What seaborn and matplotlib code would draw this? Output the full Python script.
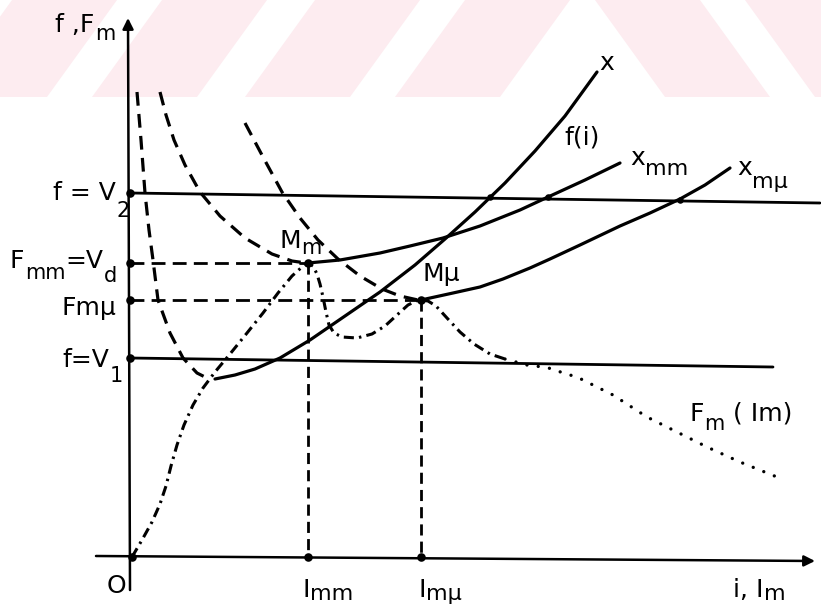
import matplotlib
matplotlib.use("Agg")
import matplotlib.pyplot as plt
import matplotlib.transforms as mtransforms
from matplotlib.patches import Polygon
import seaborn as sns

# ---------------- characteristic levels ----------------
V2_I = [-0.02, 6.88]          # f = V2 line (left / right end)
V2_F = [3.64, 3.54]
V1_I = [-0.02, 6.41]          # f = V1 line
V1_F = [1.99, 1.90]
F_MM = 2.94                   # F_mm = V_d
F_MMU = 2.57                  # F_m mu
I_MM = 1.76
I_MMU = 2.89

# ---------------- axes (with arrow ends) ----------------
XAXIS_I = [-0.36, 6.83]
XAXIS_F = [0.01, -0.04]
YAXIS_I = [-0.02, -0.04]
YAXIS_F = [-0.33, 5.39]

# ---------------- curves ----------------
# steep dashed hyperbola
dash_a_i = [0.05, 0.09, 0.13, 0.17, 0.21, 0.26, 0.38, 0.51, 0.65, 0.75]
dash_a_f = [4.65, 4.17, 3.64, 3.27, 2.97, 2.57, 2.24, 1.99, 1.84, 1.79]
# dashed curve ending at M_m
dash_b_i = [0.28, 0.34, 0.42, 0.53, 0.68, 0.88, 1.13, 1.40, 1.60, 1.74]
dash_b_f = [4.65, 4.42, 4.17, 3.92, 3.65, 3.41, 3.19, 3.03, 2.96, 2.94]
# dashed curve ending at M_mu
dash_c_i = [1.13, 1.31, 1.50, 1.68, 1.86, 2.06, 2.28, 2.50, 2.68, 2.86]
dash_c_f = [4.34, 4.00, 3.65, 3.39, 3.17, 2.98, 2.81, 2.68, 2.61, 2.57]

# F_m(I_m) characteristic (dash-dot part)
fm_i = [0.00, 0.10, 0.20, 0.28, 0.34, 0.39, 0.45, 0.52, 0.61, 0.71, 0.83,
        0.98, 1.15, 1.31, 1.46, 1.60, 1.70, 1.76, 1.81, 1.85, 1.88, 1.91,
        1.94, 1.97, 2.02, 2.10, 2.25, 2.40, 2.53, 2.65, 2.76, 2.84, 2.89,
        2.96, 3.04, 3.15, 3.28, 3.42, 3.58, 3.73]
fm_f = [0.00, 0.17, 0.35, 0.53, 0.71, 0.91, 1.12, 1.32, 1.52, 1.69, 1.85,
        2.03, 2.24, 2.44, 2.64, 2.81, 2.90, 2.94, 2.91, 2.83, 2.73, 2.60,
        2.45, 2.32, 2.24, 2.20, 2.19, 2.23, 2.31, 2.42, 2.52, 2.56, 2.57,
        2.56, 2.51, 2.39, 2.25, 2.13, 2.03, 1.98]
# F_m(I_m) tail (dotted part)
fm_tail_i = [3.73, 3.95, 4.11, 4.21, 4.31, 4.45, 4.63, 4.81, 5.15, 5.41,
             5.75, 6.08, 6.45]
fm_tail_f = [1.98, 1.92, 1.90, 1.88, 1.84, 1.80, 1.71, 1.62, 1.40, 1.27,
             1.10, 0.95, 0.80]

# f(i) characteristic
fi_i = [0.83, 1.03, 1.23, 1.48, 1.78, 2.13, 2.48, 2.83, 3.13, 3.43, 3.73,
        4.03, 4.33, 4.65]
fi_f = [1.78, 1.82, 1.88, 1.99, 2.17, 2.41, 2.65, 2.92, 3.18, 3.45, 3.74,
        4.06, 4.41, 4.85]
# x_mm branch
xmm_i = [1.76, 2.08, 2.48, 2.78, 3.11, 3.48, 3.88, 4.16, 4.53, 4.88]
xmm_f = [2.94, 2.97, 3.04, 3.11, 3.19, 3.31, 3.47, 3.60, 3.77, 3.94]
# x_mu branch
xmu_i = [2.89, 3.21, 3.48, 3.71, 3.98, 4.18, 4.48, 4.88, 5.18, 5.48, 5.73, 5.98]
xmu_f = [2.57, 2.64, 2.70, 2.78, 2.89, 2.98, 3.12, 3.31, 3.44, 3.58, 3.72, 3.89]

# crossings with f = V2
cross_i = [3.58, 4.16, 5.48]
cross_f = [3.60, 3.60, 3.57]

# ---------------- style ----------------
sns.set_theme(style="white")
plt.rcParams["font.family"] = ["DejaVu Sans"]

DASH = (0, (4.3, 2.6))
DASH_H = (0, (5.0, 2.6))
DASH_V = (0, (4.0, 2.2))
DASHDOT = (0, (3.3, 1.7, 0.8, 1.7))
DOTTED = (0, (0.01, 3.4))
INK = "black"
FS = 18
FS_SUB = 15

fig = plt.figure(figsize=(8.21, 6.14), dpi=100)
ax = fig.add_axes([0, 0, 1, 1])
ax.set_xlim(-1.32, 6.89)
ax.set_ylim(-0.57, 5.57)
ax.axis("off")

# faint pink stripes across the top of the sheet (pixel space)
px = mtransforms.Affine2D().scale(1 / 821, -1 / 614).translate(0, 1) + fig.transFigure
pink = "#fdecf0"
for xb in [-58, 92, 245, 395]:
    ax.add_patch(Polygon([(xb, 97), (xb + 105, 97), (xb + 175, 0), (xb + 70, 0)],
                         closed=True, transform=px, facecolor=pink,
                         edgecolor="none", zorder=0))
for xb in [665, 815]:
    ax.add_patch(Polygon([(xb, 97), (xb + 105, 97), (xb + 35, 0), (xb - 70, 0)],
                         closed=True, transform=px, facecolor=pink,
                         edgecolor="none", zorder=0))


def curve(i, f, ls="-", lw=2.3, cap="butt"):
    sns.lineplot(x=i, y=f, ax=ax, color=INK, linewidth=lw, linestyle=ls,
                 estimator=None, sort=False, dash_capstyle=cap, zorder=3)


def rich(x, y, pieces):
    """Write a label piece by piece; each piece is (text, drop in points, size)."""
    prev = None
    for s, drop, size in pieces:
        if prev is None:
            prev = ax.text(x, y, s, fontsize=size, ha="left", va="baseline",
                           color=INK)
        else:
            prev = ax.annotate(s, xy=(1, y), xycoords=(prev, "data"),
                               xytext=(0.3, -drop), textcoords="offset points",
                               fontsize=size, ha="left", va="baseline",
                               color=INK)


# axes with arrow heads
ax.annotate("", xy=(XAXIS_I[1], XAXIS_F[1]), xytext=(XAXIS_I[0], XAXIS_F[0]),
            arrowprops=dict(arrowstyle="-|>", color=INK, lw=1.8,
                            mutation_scale=16, shrinkA=0, shrinkB=0))
ax.annotate("", xy=(YAXIS_I[1], YAXIS_F[1]), xytext=(YAXIS_I[0], YAXIS_F[0]),
            arrowprops=dict(arrowstyle="-|>", color=INK, lw=1.8,
                            mutation_scale=16, shrinkA=0, shrinkB=0))

# reference levels
curve(V2_I, V2_F, lw=2.0)
curve(V1_I, V1_F, lw=2.0)
curve([YAXIS_I[0], I_MM], [F_MM, F_MM], ls=DASH_H, lw=2.0)
curve([YAXIS_I[0], I_MMU], [F_MMU, F_MMU], ls=DASH_H, lw=2.0)
curve([I_MM, I_MM], [F_MM, 0], ls=DASH_V, lw=2.0)
curve([I_MMU, I_MMU], [F_MMU, 0], ls=DASH_V, lw=2.0)

# characteristics
curve(dash_a_i, dash_a_f, ls=DASH)
curve(dash_b_i, dash_b_f, ls=DASH)
curve(dash_c_i, dash_c_f, ls=DASH)
curve(fm_i, fm_f, ls=DASHDOT, lw=2.2)
curve(fm_tail_i, fm_tail_f, ls=DOTTED, lw=2.4, cap="round")
curve(fi_i, fi_f)
curve(xmm_i, xmm_f)
curve(xmu_i, xmu_f)

# marked points
pts_i = [YAXIS_I[0]] * 4 + [I_MM, I_MMU, I_MM, I_MMU, 0.0]
pts_f = [V2_F[0], F_MM, F_MMU, V1_F[0], F_MM, F_MMU, 0.0, 0.0, 0.0]
sns.scatterplot(x=pts_i, y=pts_f, ax=ax, color=INK, s=38, linewidth=0, zorder=5)
sns.scatterplot(x=cross_i, y=cross_f, ax=ax, color=INK, s=22, linewidth=0, zorder=5)

# ---------------- labels ----------------
rich(-0.77, 5.25, [("f ,F", 0, FS), ("m", 6, FS_SUB)])
rich(-0.79, 3.57, [("f = V", 0, FS), ("2", 12, FS_SUB)])
rich(-1.22, 2.89, [("F", 0, FS), ("mm", 8, FS_SUB), ("=V", 0, FS), ("d", 10, FS_SUB)])
ax.text(-0.16, 2.42, "Fmμ", ha="right", va="baseline", fontsize=FS, color=INK)
rich(-0.70, 1.90, [("f=V", 0, FS), ("1", 11, FS_SUB)])

ax.text(-0.16, -0.29, "O", ha="center", va="center", fontsize=FS, color=INK)
rich(1.70, -0.40, [("I", 0, FS), ("mm", 2, 16)])
rich(2.86, -0.40, [("I", 0, FS), ("mμ", 2, 16)])
rich(6.01, -0.40, [("i, I", 0, FS), ("m", 2, 16)])

rich(1.47, 3.09, [("M", 0, FS), ("m", 4, FS_SUB)])
ax.text(2.90, 2.76, "Mμ", ha="left", va="baseline", fontsize=FS, color=INK)
ax.text(4.75, 4.94, "x", ha="center", va="center", fontsize=FS, color=INK)
ax.text(4.50, 4.20, "f(i)", ha="center", va="center", fontsize=FS, color=INK)
rich(4.98, 3.92, [("x", 0, FS), ("mm", 7, 16)])
rich(6.05, 3.82, [("x", 0, FS), ("mμ", 9, 16)])
rich(5.57, 1.36, [("F", 0, FS), ("m", 6.5, FS_SUB), (" ( Im)", 0, FS)])

fig.savefig("out.png", dpi=100)
